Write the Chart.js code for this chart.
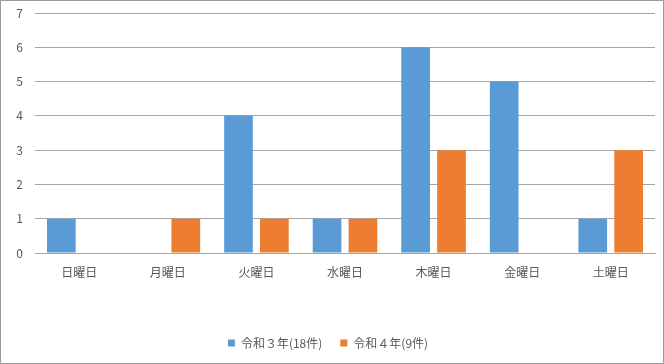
<!DOCTYPE html>
<html>
<head>
<meta charset="utf-8">
<script src="https://cdn.jsdelivr.net/npm/chart.js@4/dist/chart.umd.min.js"></script>
<style>
  body { margin: 0; background: #fff; }
  #wrap { width: 662px; height: 362px; border: 1px solid #9a9a9a; position: relative; }
</style>
</head>
<body>
<div id="wrap"><canvas id="myChart" width="662" height="362"></canvas></div>
<script>
const days = ['日曜日', '月曜日', '火曜日', '水曜日', '木曜日', '金曜日', '土曜日'];
const r3Label = '令和３年(18件)';
const r3Values = [1, 0, 4, 1, 6, 5, 1];
const r4Label = '令和４年(9件)';
const r4Values = [0, 1, 1, 1, 3, 0, 3];
const yTicks = [0, 1, 2, 3, 4, 5, 6, 7];

const fontFamily = '"Noto Sans CJK JP", "Noto Sans", sans-serif';
const textColor = '#595959';
const gridColor = '#a6a6a6';

const ctx = document.getElementById('myChart').getContext('2d');
const myChart = new Chart(ctx, {
    type: 'bar',
    data: {
        labels: days,
        datasets: [{
            label: r3Label,
            data: r3Values,
            backgroundColor: '#5B9BD5',
            barPercentage: 0.8,
            categoryPercentage: 0.81
        }, {
            label: r4Label,
            data: r4Values,
            backgroundColor: '#ED7D31',
            barPercentage: 0.8,
            categoryPercentage: 0.81
        }]
    },
    options: {
        responsive: false,
        animation: false,
        layout: { padding: { top: 12, right: 8, left: 0, bottom: 4 } },
        plugins: {
            legend: {
                position: 'bottom',
                labels: {
                    boxWidth: 7, boxHeight: 7, padding: 18,
                    color: textColor,
                    font: { family: fontFamily, size: 12 }
                }
            },
            tooltip: { enabled: false }
        },
        scales: {
            x: {
                grid: { display: false, drawTicks: false },
                border: { color: gridColor },
                ticks: { color: textColor, padding: 12, font: { family: fontFamily, size: 12 } },
                afterFit: (axis) => { axis.height = 66; }
            },
            y: {
                min: 0, max: 7,
                afterBuildTicks: (axis) => { axis.ticks = yTicks.map(v => ({ value: v })); },
                grid: { color: gridColor, drawTicks: false },
                border: { display: false },
                ticks: { color: textColor, padding: 12, font: { family: fontFamily, size: 12 } },
                afterFit: (axis) => {
                    axis.width = 34;
                    axis.paddingTop = 0;
                    axis.paddingBottom = 0;
                }
            }
        }
    }
});
</script>
</body>
</html>
